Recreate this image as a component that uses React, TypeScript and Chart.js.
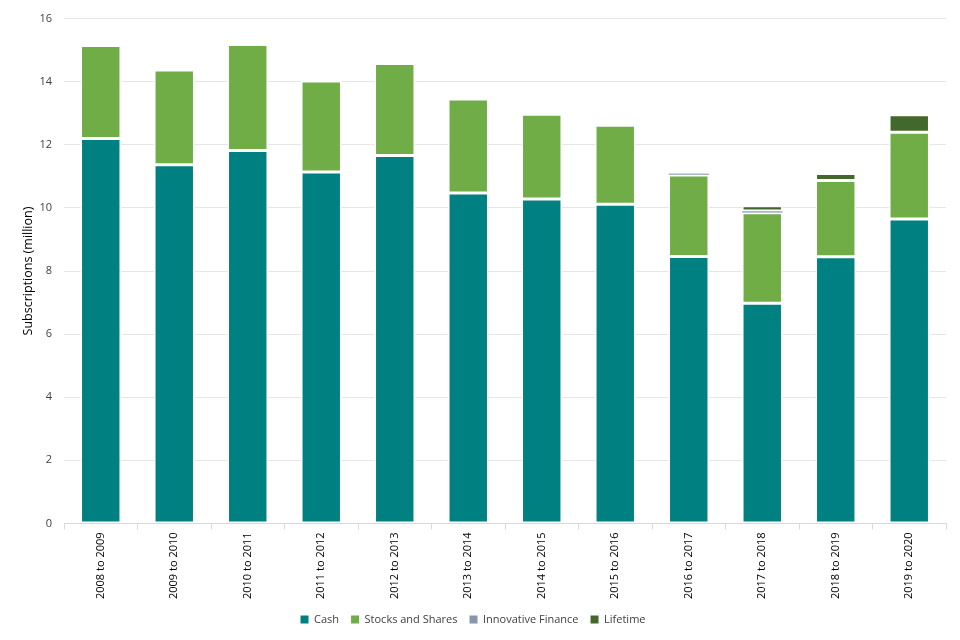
import { useEffect, useRef } from 'react';
import { Chart, registerables } from 'chart.js';

Chart.register(...registerables);

const years = [
  '2008 to 2009', '2009 to 2010', '2010 to 2011', '2011 to 2012',
  '2012 to 2013', '2013 to 2014', '2014 to 2015', '2015 to 2016',
  '2016 to 2017', '2017 to 2018', '2018 to 2019', '2019 to 2020',
];

// subscriptions in millions
const cash = [12.2, 11.37, 11.82, 11.14, 11.66, 10.47, 10.28, 10.12, 8.46, 6.98, 8.45, 9.65];
const stocksAndShares = [2.95, 3.0, 3.36, 2.88, 2.92, 2.98, 2.69, 2.5, 2.58, 2.87, 2.42, 2.75];
const innovativeFinance = [null, null, null, null, null, null, null, null, 0.05, 0.05, null, null];
const lifetime = [null, null, null, null, null, null, null, null, null, 0.17, 0.22, 0.55];

const yTicks = [0, 2, 4, 6, 8, 10, 12, 14, 16];

const FONT = '"Open Sans", "Liberation Sans", sans-serif';

export default function App() {
  const chartRef = useRef<HTMLCanvasElement>(null);
  const chartInstance = useRef<Chart | null>(null);

  useEffect(() => {
    document.body.style.margin = '0';
    if (!chartRef.current) return;
    if (chartInstance.current) chartInstance.current.destroy();
    const ctx = chartRef.current.getContext('2d');
    if (!ctx) return;

    const seg = (label: string, data: (number | null)[], color: string, border = 1.5) => ({
      label,
      data,
      backgroundColor: color,
      borderColor: '#ffffff',
      borderWidth: border,
      borderSkipped: false as const,
      barPercentage: 0.55,
      categoryPercentage: 1.0,
    });

    chartInstance.current = new Chart(ctx, {
      type: 'bar',
      data: {
        labels: years,
        datasets: [
          seg('Cash', cash, '#008080'),
          seg('Stocks and Shares', stocksAndShares, '#70AD47'),
          seg('Innovative Finance', innovativeFinance, '#A9B6C8', 0),
          seg('Lifetime', lifetime, '#43682B'),
        ],
      },
      options: {
        animation: false,
        responsive: true,
        maintainAspectRatio: false,
        layout: { padding: { left: 0, right: 14, top: -1, bottom: 5 } },
        plugins: {
          legend: {
            position: 'bottom',
            labels: {
              boxWidth: 8,
              boxHeight: 8,
              padding: 12,
              color: '#404040',
              font: { family: FONT, size: 11 },
              generateLabels: (chart) =>
                Chart.defaults.plugins.legend.labels.generateLabels(chart).map((item) => ({
                  ...item,
                  strokeStyle: item.fillStyle,
                  fillStyle: item.text === 'Innovative Finance' ? '#8497B0' : item.fillStyle,
                  lineWidth: 0,
                })),
            },
          },
          tooltip: { enabled: false },
        },
        scales: {
          x: {
            stacked: true,
            grid: {
              offset: true,
              drawOnChartArea: false,
              tickLength: 6,
              color: '#d9d9d9',
            },
            border: { color: '#d9d9d9' },
            ticks: {
              minRotation: 90,
              maxRotation: 90,
              color: '#000000',
              font: { family: FONT, size: 11 },
            },
          },
          y: {
            stacked: true,
            min: 0,
            max: 16,
            afterBuildTicks: (axis) => {
              axis.ticks = yTicks.map((v) => ({ value: v }));
            },
            afterFit: (axis) => {
              axis.width = 64;
            },
            grid: { color: '#e6e6e6', drawTicks: false },
            border: { display: false },
            ticks: {
              padding: 12,
              color: '#404040',
              font: { family: FONT, size: 11 },
            },
            title: {
              display: true,
              text: 'Subscriptions (million)',
              color: '#000000',
              padding: { top: 20.5, bottom: 0 },
              font: { family: FONT, size: 12.5 },
            },
          },
        },
      },
    });

    return () => {
      if (chartInstance.current) {
        chartInstance.current.destroy();
        chartInstance.current = null;
      }
    };
  }, []);

  return (
    <div style={{ width: 960, height: 640, position: 'relative', background: '#ffffff' }}>
      <canvas ref={chartRef} />
    </div>
  );
}
